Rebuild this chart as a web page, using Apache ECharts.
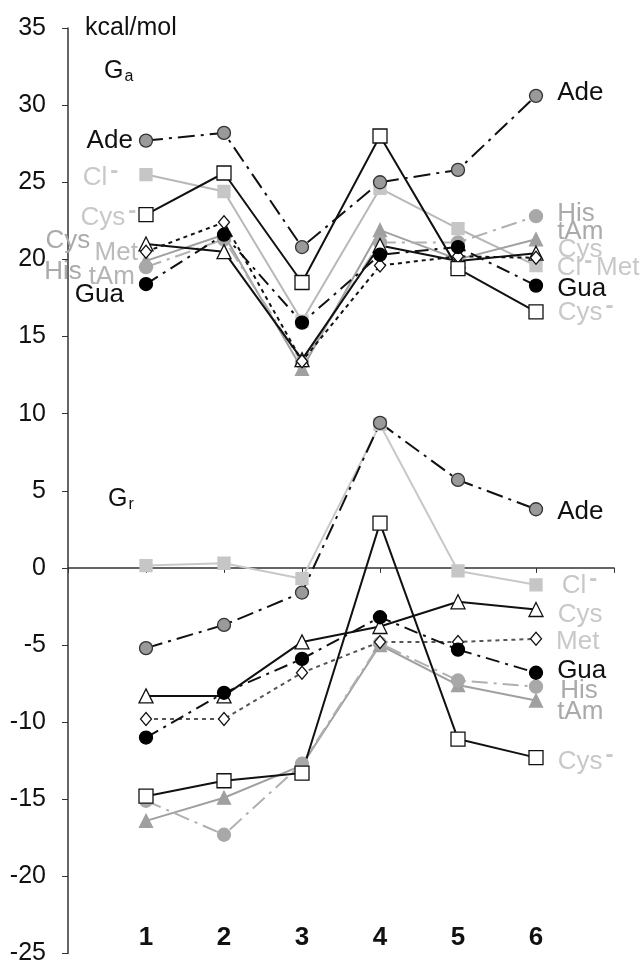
<!DOCTYPE html>
<html><head><meta charset="utf-8">
<script src="https://cdn.jsdelivr.net/npm/echarts/dist/echarts.min.js"></script>
<style>html,body{margin:0;padding:0;background:#fff}#c{width:643px;height:966px}</style>
</head><body><div id="c"></div>
<script>
// ---- data ----
const xPositions = [1, 2, 3, 4, 5, 6];
const xTickLabels = ['1', '2', '3', '4', '5', '6'];
const unitLabel = 'kcal/mol';

// Ga (upper group)
const gaAde  = [27.7, 28.2, 20.8, 25.0, 25.8, 30.6];
const gaCl   = [25.5, 24.4, 16.0, 24.6, 22.0, 19.6];
const gaCysm = [22.9, 25.6, 18.5, 28.0, 19.4, 16.6];
const gaCys  = [21.0, 20.5, 13.5, 20.9, 19.9, 20.4];
const gaMet  = [20.5, 22.4, 13.4, 19.6, 20.2, 20.1];
const gaHis  = [19.5, 21.3, 13.3, 21.1, 21.1, 22.8];
const gaTam  = [19.9, 21.6, 12.9, 21.9, 20.0, 21.3];
const gaGua  = [18.4, 21.6, 15.9, 20.3, 20.8, 18.3];

// Gr (lower group)
const grAde  = [-5.2, -3.7, -1.6, 9.4, 5.7, 3.8];
const grCl   = [0.15, 0.3, -0.7, 9.3, -0.2, -1.1];
const grCysm = [-14.8, -13.8, -13.3, 2.9, -11.1, -12.3];
const grCys  = [-8.3, -8.3, -4.8, -3.8, -2.2, -2.7];
const grMet  = [-9.8, -9.8, -6.8, -4.8, -4.8, -4.6];
const grHis  = [-15.1, -17.3, -12.7, -4.9, -7.3, -7.7];
const grTam  = [-16.4, -14.9, -12.8, -5.0, -7.6, -8.6];
const grGua  = [-11.0, -8.1, -5.9, -3.2, -5.3, -6.8];

const names = {Ade:'Ade', Cl:'Cl', Cysm:'Cys', Cys:'Cys', Met:'Met', His:'His', Tam:'tAm', Gua:'Gua'};
const minusSup = ['Cl', 'Cysm'];

// ---- styles ----
const FONT = 'Liberation Sans, Arial, sans-serif';
const BLACK = '#111', LIGHT = '#c8c8c8', MID = '#aaaaaa';
const styles = {
  Ade:  {line: BLACK, type: [17,6,3,6], symbol: 'circle', size: 13, fill: '#9a9a9a', border: '#333'},
  Cl:   {line: '#b8b8b8', type: 'solid', symbol: 'rect', size: 12, fill: '#c6c6c6', border: '#c6c6c6'},
  Cysm: {line: BLACK, type: 'solid', symbol: 'rect', size: 14, fill: '#fff', border: BLACK},
  Cys:  {line: BLACK, type: 'solid', symbol: 'triangle', size: 14, fill: '#fff', border: BLACK},
  Met:  {line: BLACK, type: [4,4], symbol: 'diamond', size: [11,13], fill: '#fff', border: BLACK},
  His:  {line: '#b0b0b0', type: [16,6,3,6], symbol: 'circle', size: 13, fill: '#a8a8a8', border: '#a8a8a8'},
  Tam:  {line: '#a0a0a0', type: 'solid', symbol: 'triangle', size: 13, fill: '#a0a0a0', border: '#a0a0a0'},
  Gua:  {line: BLACK, type: [14,6,3,6], symbol: 'circle', size: 13, fill: '#000', border: '#000'}
};

const rich = {
  t: {fontSize: 26, fontFamily: FONT},
  m: {fontSize: 24, fontFamily: FONT, fontWeight: 'bold', padding: [0,0,13,3]}
};
function labelText(key) {
  return minusSup.includes(key) ? '{t|' + names[key] + '}{m|-}' : '{t|' + names[key] + '}';
}
// label offsets are measured from the marker centre; labels anchor at the marker edge (~7px)
function lbl(key, pos, color, dx, dy) {
  const adj = pos === 'left' ? 7 : -7;
  return {show: true, position: pos, distance: 0, offset: [dx + adj, dy], color: color,
          formatter: labelText(key), rich: rich, fontFamily: FONT, fontSize: 26};
}

function mk(key, values, leftLabel, rightLabel, over) {
  const s = Object.assign({}, styles[key], over || {});
  const data = values.map((v, i) => {
    const item = {value: [xPositions[i], v]};
    if (i === 0 && leftLabel) item.label = leftLabel;
    if (i === values.length - 1 && rightLabel) item.label = rightLabel;
    return item;
  });
  return {
    type: 'line', name: key, data: data, symbol: s.symbol, symbolSize: s.size,
    lineStyle: {color: s.line, width: 2, type: s.type},
    itemStyle: {color: s.fill, borderColor: s.border, borderWidth: 1.3, opacity: 1},
    label: {show: false}, emphasis: {disabled: true}, animation: false, z: 2
  };
}

const series = [
  // Ga
  mk('Cl', gaCl, lbl('Cl','left',LIGHT,-28,3), lbl('Cl','right',LIGHT,21,2)),
  mk('Tam', gaTam, lbl('Tam','left','#b4b4b4',-11,16), lbl('Tam','right',MID,21,-7)),
  mk('His', gaHis, lbl('His','left',MID,-64,5), lbl('His','right',MID,21,-2)),
  mk('Cys', gaCys, lbl('Cys','left',MID,-55,-3), lbl('Cys','right',LIGHT,21,-3)),
  mk('Met', gaMet, lbl('Met','left','#bbbbbb',-9,1), lbl('Met','right',LIGHT,61,10)),
  mk('Cysm', gaCysm, lbl('Cysm','left',LIGHT,-9,3), lbl('Cysm','right',LIGHT,21,1)),
  mk('Gua', gaGua, lbl('Gua','left',BLACK,-22,11), lbl('Gua','right',BLACK,21,3)),
  mk('Ade', gaAde, lbl('Ade','left',BLACK,-13,0), lbl('Ade','right',BLACK,21,-3)),
  // Gr
  mk('Cl', grCl, null, lbl('Cl','right',LIGHT,26,1), {line: '#c8c8c8'}),
  mk('Tam', grTam, null, lbl('Tam','right',MID,21,11)),
  mk('His', grHis, null, lbl('His','right',MID,24,4)),
  mk('Met', grMet, null, lbl('Met','right',LIGHT,21,3), {line: '#555'}),
  mk('Cys', grCys, null, lbl('Cys','right',LIGHT,21,5)),
  mk('Cysm', grCysm, null, lbl('Cysm','right',LIGHT,21,4)),
  mk('Gua', grGua, null, lbl('Gua','right',BLACK,21,-2)),
  mk('Ade', grAde, null, lbl('Ade','right',BLACK,21,3))
];

const gRich = {
  g: {fontSize: 25, color: BLACK, fontFamily: FONT, fontWeight: 'normal'},
  s: {fontSize: 16, color: BLACK, fontFamily: FONT, fontWeight: 'normal', padding: [12,0,0,1]}
};

const option = {
  backgroundColor: '#fff',
  animation: false,
  textStyle: {fontFamily: FONT},
  grid: {left: 68, right: 29, top: 28, bottom: 9, containLabel: false},
  title: [
    {text: '{g|G}{s|a}', left: 99, top: 52, textStyle: {fontWeight: 'normal', rich: gRich}},
    {text: '{g|G}{s|r}', left: 103, top: 480, textStyle: {fontWeight: 'normal', rich: gRich}}
  ],
  xAxis: [
    {type: 'value', min: 0, max: 7, interval: 1,
     axisLine: {show: true, onZero: true, lineStyle: {color: '#333', width: 1.5}},
     axisTick: {show: true, length: 5, lineStyle: {color: '#333'}},
     axisLabel: {show: false}, splitLine: {show: false}},
    {type: 'value', min: 0, max: 7, interval: 1, position: 'bottom', offset: -29,
     axisLine: {show: false, onZero: false}, axisTick: {show: false}, splitLine: {show: false},
     axisLabel: {show: true, margin: 0, fontSize: 26, fontWeight: 'bold', color: BLACK, fontFamily: FONT,
       formatter: v => (v >= 1 && v <= 6) ? xTickLabels[v - 1] : ''}}
  ],
  yAxis: {
    type: 'value', min: -25, max: 35, interval: 5,
    name: unitLabel, nameLocation: 'end', nameGap: 0,
    nameTextStyle: {fontSize: 25, color: BLACK, align: 'left', verticalAlign: 'middle', padding: [0,0,0,17], fontFamily: FONT},
    axisLine: {show: true, onZero: false, lineStyle: {color: '#333', width: 1.5}},
    axisTick: {show: true, length: 6, lineStyle: {color: '#333'}},
    axisLabel: {fontSize: 25, color: BLACK, margin: 22, fontFamily: FONT},
    splitLine: {show: false}
  },
  series: series
};
const chart = echarts.init(document.getElementById('c'), null, {renderer: 'canvas'});
chart.setOption(option);
</script>
</body></html>
